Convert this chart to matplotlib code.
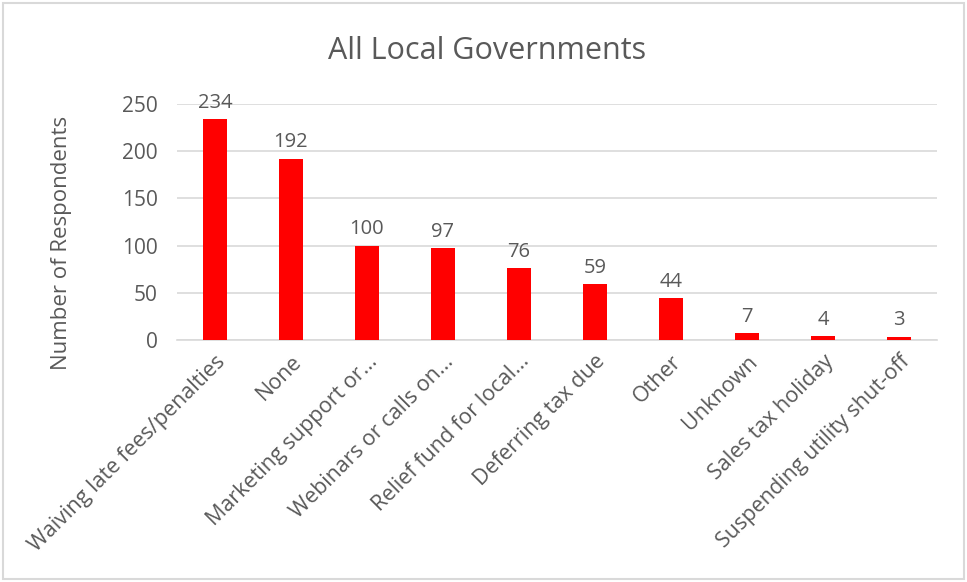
import matplotlib.pyplot as plt
from matplotlib.patches import Rectangle

plt.rcParams['font.family'] = ['Open Sans', 'DejaVu Sans']

categories = [
    "Waiving late fees/penalties",
    "None",
    "Marketing support or...",
    "Webinars or calls on...",
    "Relief fund for local...",
    "Deferring tax due",
    "Other",
    "Unknown",
    "Sales tax holiday",
    "Suspending utility shut-off",
]
counts = [234, 192, 100, 97, 76, 59, 44, 7, 4, 3]

text_color = "#595959"

fig = plt.figure(figsize=(9.67, 5.82), dpi=100)
ax = fig.add_axes([0.183, 0.416, 0.786, 0.405])

x = range(len(categories))
bars = ax.bar(x, counts, width=0.32, color="#ff0000", zorder=3)

for xi, v in zip(x, counts):
    ax.text(xi, v + 7, str(v), ha="center", va="bottom", fontsize=14.5, color=text_color)

ax.set_xlim(-0.5, len(categories) - 0.5)
ax.set_ylim(0, 250)
ax.set_yticks(range(0, 251, 50))
ax.yaxis.grid(True, color="#d9d9d9", linewidth=1.2, zorder=0)
ax.set_axisbelow(True)

ax.set_xticks(list(x))
ax.set_xticklabels(categories, rotation=45, ha="right", rotation_mode="anchor", fontsize=15.5, color=text_color)
ax.tick_params(axis="y", length=0, pad=14, labelsize=15, labelcolor=text_color)
ax.tick_params(axis="x", length=0, pad=8)

for s in ["top", "right", "left"]:
    ax.spines[s].set_visible(False)
ax.spines["bottom"].set_color("#d9d9d9")
ax.spines["bottom"].set_linewidth(1.2)

# y label sits a bit lower than the axes centre, like the original
fig.text(0.064, 0.582, "Number of Respondents", rotation=90, ha="center", va="center",
         fontsize=16, color=text_color)
fig.text(0.504, 0.913, "All Local Governments", ha="center", va="center", fontsize=22, color=text_color)

fig.patches.append(Rectangle((0.003, 0.005), 0.994, 0.99, transform=fig.transFigure,
                             fill=False, edgecolor="#d9d9d9", linewidth=1.5))

plt.savefig("out.png", dpi=100)
